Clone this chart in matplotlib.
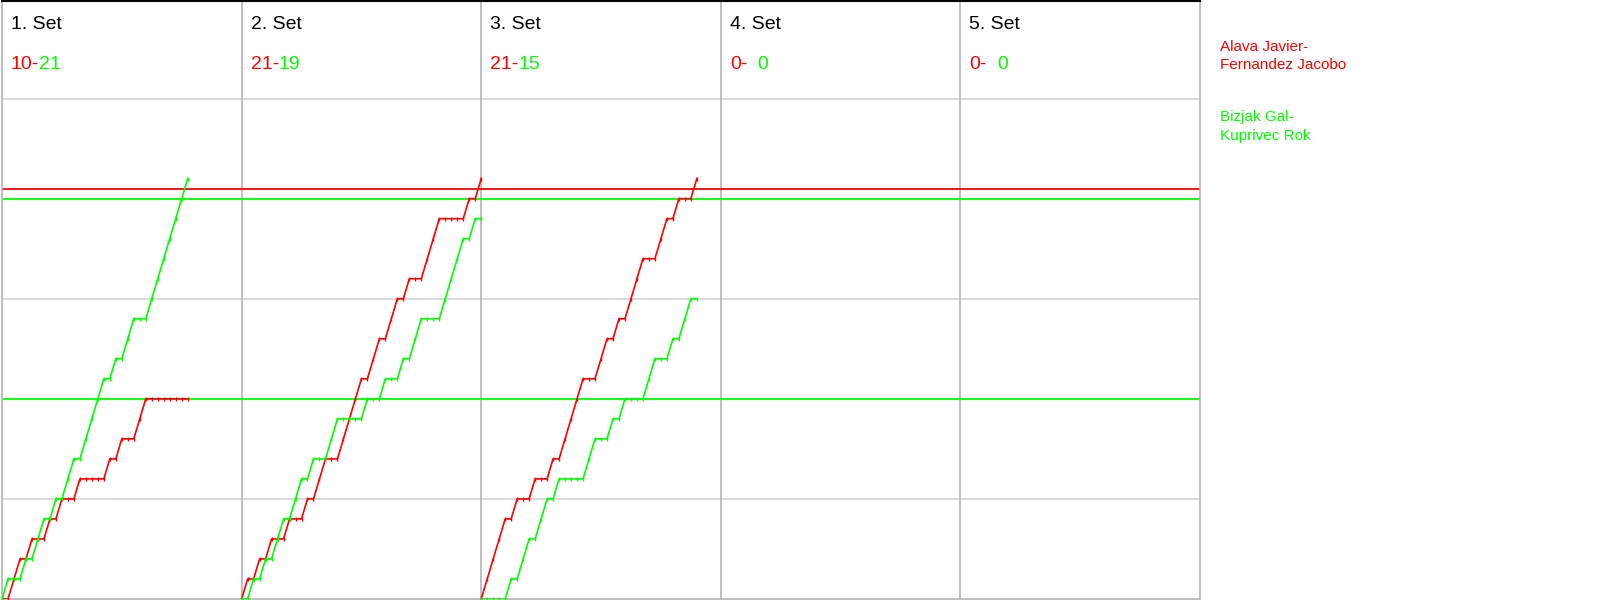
import matplotlib
matplotlib.use('Agg')
import matplotlib.pyplot as plt

plt.rcParams['font.family'] = ['Liberation Sans', 'DejaVu Sans']

RED = '#ff0000'
GREEN = '#00ff00'

team_red = ['Alava Javier-', 'Fernandez Jacobo']
team_green = ['Bizjak Gal-', 'Kuprivec Rok']

set_names = ['1. Set', '2. Set', '3. Set', '4. Set', '5. Set']
# who won each rally, R = red team, G = green team
set1 = 'GRRGRGGRGRGGRGGGGRGRGGRRGGGGGGG'
set2 = 'RGRGRGGRGGRGRRGGRRRRGRRGRRGRGGRRRGGGGRGR'
set3 = 'RRRRGRGGRGGRGRRRRGGRRGRGRRRGGRRGRGGR'
set4 = ''
set5 = ''
rallies = [set1, set2, set3, set4, set5]

red_marks = [20.5]
green_marks = [20, 10]
grid_scores = [5, 15, 25]

SET_W = 40  # rallies per panel


def progress(seq, who):
    s = [0]
    for w in seq:
        s.append(s[-1] + (1 if w == who else 0))
    return s


fig = plt.figure(figsize=(16, 6), dpi=100)
ax = fig.add_axes([2 / 1600, 1 / 600, 1198 / 1600, 598.5 / 600])
ax.set_xlim(0, SET_W * len(rallies))
ax.set_ylim(0, 29.9)
ax.set_xticks([])
ax.set_yticks([])

for g in grid_scores:
    ax.axhline(g, color='#d3d3d3', lw=1.2, zorder=1)
for i in range(1, len(rallies)):
    ax.axvline(i * SET_W, color='#b4b4b4', lw=1.2, zorder=1)

for m in red_marks:
    ax.axhline(m, color=RED, lw=1.3, zorder=2)
for m in green_marks:
    ax.axhline(m, color=GREEN, lw=1.3, zorder=2)

for spine in ['left', 'right', 'bottom']:
    ax.spines[spine].set_color('#b4b4b4')
    ax.spines[spine].set_linewidth(1.2)
ax.spines['top'].set_color('black')
ax.spines['top'].set_linewidth(1.5)

for i, seq in enumerate(rallies):
    x0 = i * SET_W
    r = progress(seq, 'R')
    g = progress(seq, 'G')
    xs = [x0 + k for k in range(len(seq) + 1)]
    if seq:
        ax.plot(xs, r, color=RED, lw=1.2, marker='|', ms=3, mew=1, zorder=3)
        ax.plot(xs, g, color=GREEN, lw=1.2, marker='|', ms=3, mew=1, zorder=3)

    ax.text(x0 + 1.5, 28.7, set_names[i], fontsize=14, color='black',
            va='center', ha='left')
    rt = ax.text(x0 + 1.5, 26.7, f'{r[-1]}-', fontsize=14, color=RED,
                 va='center', ha='left')
    green_txt = f'{g[-1]:>2}'.replace(' ', '\u2007')
    ax.annotate(green_txt, xy=(1, 0), xycoords=rt, fontsize=14, color=GREEN,
                va='bottom', ha='left')

ys = [47, 65]
for line, y in zip(team_red, ys):
    fig.text(1220 / 1600, 1 - y / 600, line, fontsize=11, color=RED,
             va='center', ha='left')
ys = [117, 136]
for line, y in zip(team_green, ys):
    fig.text(1220 / 1600, 1 - y / 600, line, fontsize=11, color=GREEN,
             va='center', ha='left')

fig.savefig('out.png', dpi=100)
